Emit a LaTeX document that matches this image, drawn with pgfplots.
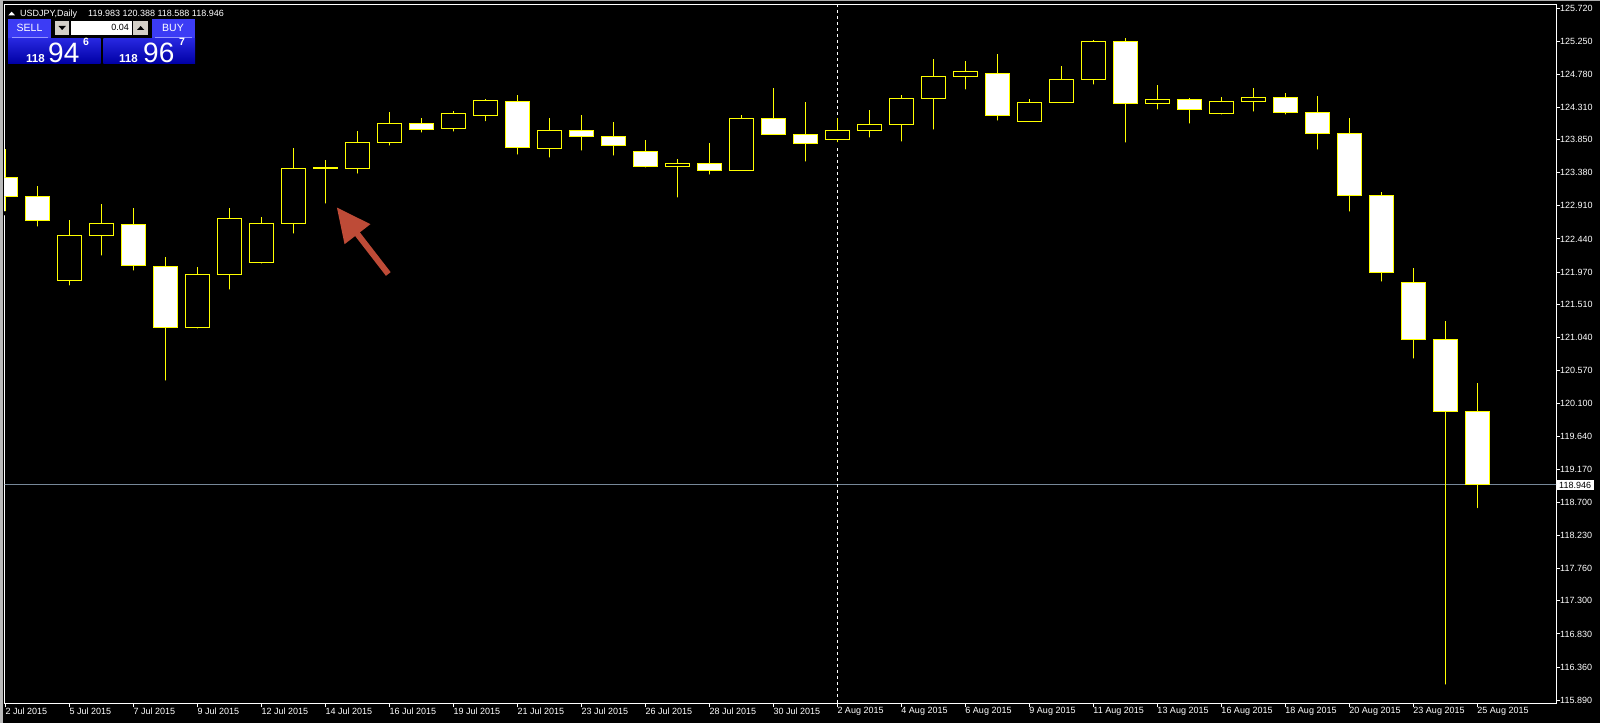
\documentclass[border=0pt]{standalone}
\usepackage{fontspec}
\setmainfont{Liberation Sans}
\usepackage{pgfplots}
\usepackage{pgfplotstable}
\pgfplotsset{compat=1.18}
\usetikzlibrary{arrows.meta}

\definecolor{candle}{RGB}{255,255,0}
\definecolor{bidline}{RGB}{119,136,153}
\definecolor{arrowred}{RGB}{190,75,55}
\definecolor{btngray}{RGB}{212,208,200}
\definecolor{tabblue}{RGB}{60,60,245}
\definecolor{tabline}{RGB}{150,150,255}
\definecolor{paneltop}{RGB}{40,40,225}
\definecolor{panelbot}{RGB}{0,0,165}

% USDJPY daily: bar index, open, high, low, close
\pgfplotstableread{
i  o        h        l        c
0  123.317  123.714  122.805  123.041
1  123.047  123.193  122.587  122.706
2  121.854  122.710  121.749  122.493
3  122.493  122.937  122.175  122.663
4  122.649  122.881  121.962  122.067
5  122.052  122.185  120.399  121.186
6  121.186  122.043  121.138  121.939
7  121.939  122.881  121.692  122.734
8  122.109  122.753  122.061  122.663
9  122.663  123.733  122.487  123.445
10 123.455  123.562  122.913  123.440
11 123.445  123.974  123.339  123.814
12 123.814  124.244  123.737  124.084
13 124.084  124.159  123.922  123.999
14 124.007  124.259  123.936  124.216
15 124.197  124.429  124.084  124.401
16 124.396  124.486  123.609  123.737
17 123.729  124.159  123.567  123.984
18 123.984  124.202  123.666  123.899
19 123.899  124.102  123.595  123.771
20 123.686  123.847  123.425  123.473
21 123.473  123.577  122.999  123.516
22 123.516  123.804  123.325  123.416
23 123.416  124.202  123.396  124.155
24 124.155  124.585  123.908  123.928
25 123.928  124.386  123.510  123.800
26 123.857  124.155  123.785  123.984
27 123.984  124.273  123.851  124.070
28 124.070  124.486  123.794  124.439
29 124.439  124.997  123.964  124.749
30 124.749  124.969  124.533  124.812
31 124.794  125.068  124.092  124.197
32 124.112  124.429  124.078  124.382
33 124.382  124.898  124.348  124.709
34 124.709  125.267  124.604  125.249
35 125.249  125.295  123.780  124.368
36 124.368  124.628  124.249  124.425
37 124.425  124.443  124.050  124.283
38 124.226  124.457  124.178  124.396
39 124.396  124.585  124.220  124.453
40 124.453  124.514  124.178  124.240
41 124.240  124.472  123.680  123.942
42 123.942  124.159  122.800  123.061
43 123.061  123.108  121.805  121.967
44 121.825  122.028  120.712  121.016
45 121.016  121.276  116.081  119.983
46 119.983  120.388  118.588  118.946
}\ohlc

\pgfplotsset{chartframe/.style={
    at={(4.7pt,19.7pt)}, anchor=south west, scale only axis,
    width=1551.3pt, height=698.6pt,
    xmin=-0.019, xmax=48.46, ymin=115.845, ymax=125.768,
    enlargelimits=false}}

\begin{document}
\begin{tikzpicture}
\useasboundingbox (0,0) rectangle (1600pt,723pt);
\fill[black] (0,0) rectangle (1600pt,723pt);
\fill[gray!65] (0,721.7pt) rectangle (1600pt,723pt);
\fill[gray!55] (0,0) rectangle (3pt,723pt);

\begin{axis}[chartframe,
    axis line style={white, line width=1pt},
    tick align=outside, major tick length=4pt,
    tick style={white, line width=1pt},
    xtick pos=left, ytick pos=right, yticklabel pos=right,
    xtick={0,2,...,46},
    xticklabels={2 Jul 2015,5 Jul 2015,7 Jul 2015,9 Jul 2015,12 Jul 2015,14 Jul 2015,16 Jul 2015,19 Jul 2015,21 Jul 2015,23 Jul 2015,26 Jul 2015,28 Jul 2015,30 Jul 2015,2 Aug 2015,4 Aug 2015,6 Aug 2015,9 Aug 2015,11 Aug 2015,13 Aug 2015,16 Aug 2015,18 Aug 2015,20 Aug 2015,23 Aug 2015,25 Aug 2015},
    ytick={115.89,116.36,116.83,117.30,117.76,118.23,118.70,119.17,119.64,120.10,120.57,121.04,121.51,121.97,122.44,122.91,123.38,123.85,124.31,124.78,125.25,125.72},
    yticklabels={115.890,116.360,116.830,117.300,117.760,118.230,118.700,119.170,119.640,120.100,120.570,121.040,121.510,121.970,122.440,122.910,123.380,123.850,124.310,124.780,125.250,125.720},
    ticklabel style={font=\fontsize{9}{10}\selectfont, text=white, inner sep=0pt},
    xticklabel style={anchor=north west},
    yticklabel style={anchor=west},
    extra y ticks={118.946}, extra y tick labels={118.946},
    extra y tick style={major tick length=0pt,
        yticklabel style={fill=white, text=black, inner xsep=3pt, inner ysep=1.5pt}},
]
\addplot[bidline, line width=1pt] coordinates {(-1,118.946) (50,118.946)};
\addplot[white, line width=1pt, dash pattern=on 3pt off 3pt] coordinates {(26,115) (26,126)};
% wicks
\addplot[only marks, mark=none,
    error bars/.cd, y dir=plus, y explicit, error mark=none,
    error bar style={draw=candle, line width=1pt}]
    table[x=i, y=l, y error expr=\thisrow{h}-\thisrow{l}] {\ohlc};
\end{axis}

% bodies: invisible base, then bear (white) and bull (black) parts
\begin{axis}[chartframe, hide axis, ybar stacked, bar width=0.75]
\addplot[draw=none, fill=none] table[x=i, y expr={min(\thisrow{o},\thisrow{c})}] {\ohlc};
\addplot[draw=candle, fill=white, line width=1pt] table[x=i, y expr={max(\thisrow{o}-\thisrow{c},0)}] {\ohlc};
\addplot[draw=candle, fill=black, line width=1pt] table[x=i, y expr={max(\thisrow{c}-\thisrow{o},0)}] {\ohlc};
\end{axis}

\begin{scope}[x=1pt, y=1pt]
% header
\fill[white] (8.3,707.7) -- (15,707.7) -- (11.65,711.3) -- cycle;
\node[anchor=base west, inner sep=0pt, text=white, font=\fontsize{9}{10}\selectfont] at (20,706.3) {USDJPY,Daily};
\node[anchor=base west, inner sep=0pt, text=white, font=\fontsize{9}{10}\selectfont] at (88,706.3) {119.983 120.388 118.588 118.946};
% one click panel
\fill[tabblue] (8,685) rectangle (51,704);
\draw[tabline, line width=1pt] (12,685.7) -- (48,685.7);
\shade[top color=paneltop, bottom color=panelbot] (8,659.7) rectangle (100.7,684.7);
\fill[btngray] (55,688.3) rectangle (69.3,702.3);
\fill[black] (58.5,697) -- (65.8,697) -- (62.15,693) -- cycle;
\fill[white] (71,688.3) rectangle (132.3,702.3);
\node[anchor=base east, inner sep=0pt, font=\fontsize{9}{10}\selectfont] at (129,692.3) {0.04};
\fill[btngray] (133,688.3) rectangle (148.3,702.3);
\fill[black] (137,693) -- (144.3,693) -- (140.65,697) -- cycle;
\fill[tabblue] (151.7,685) rectangle (195,704);
\draw[tabline, line width=1pt] (155,685.7) -- (191.7,685.7);
\shade[top color=paneltop, bottom color=panelbot] (103.3,659.7) rectangle (195,684.7);
\node[anchor=base, inner sep=0pt, text=white, font=\fontsize{10.5}{12}\selectfont] at (29.5,691.3) {SELL};
\node[anchor=base, inner sep=0pt, text=white, font=\fontsize{10.5}{12}\selectfont] at (173,691.3) {BUY};
\node[anchor=base west, inner sep=0pt, text=white, font=\fontsize{11.5}{13}\selectfont\bfseries] at (26,660) {118};
\node[anchor=base west, inner sep=0pt, text=white, font=\fontsize{28}{30}\selectfont] at (48,660) {94};
\node[anchor=base west, inner sep=0pt, text=white, font=\fontsize{10.5}{12}\selectfont\bfseries] at (83,677) {6};
\node[anchor=base west, inner sep=0pt, text=white, font=\fontsize{11.5}{13}\selectfont\bfseries] at (119,660) {118};
\node[anchor=base west, inner sep=0pt, text=white, font=\fontsize{28}{30}\selectfont] at (143,660) {96};
\node[anchor=base west, inner sep=0pt, text=white, font=\fontsize{10.5}{12}\selectfont\bfseries] at (179,677) {7};
% annotation arrow
\draw[arrowred, line width=6pt, -{Triangle[length=34pt,width=31pt]}] (388.3,449) -- (336.7,515.7);
\end{scope}
\end{tikzpicture}
\end{document}
